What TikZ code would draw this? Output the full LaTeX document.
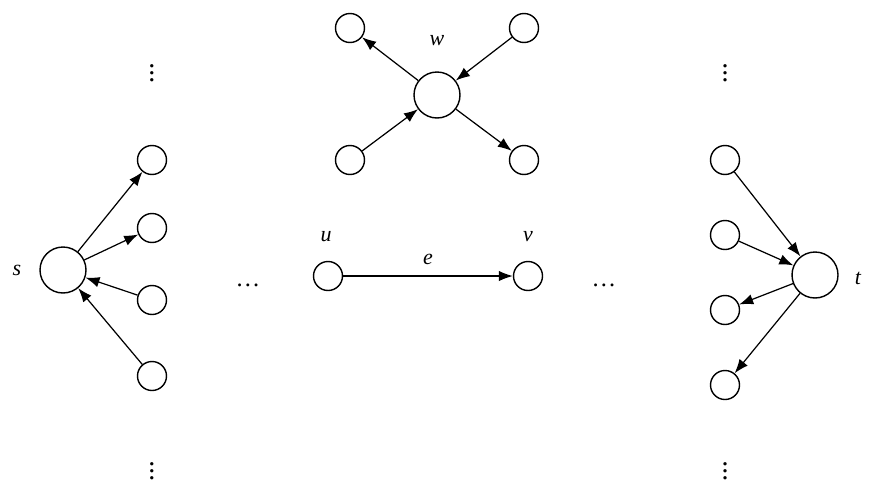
\documentclass[tikz,border=0pt]{standalone}
\usepackage{fontspec}
\setmainfont{Liberation Serif}
\usetikzlibrary{arrows.meta}
\begin{document}
\begin{tikzpicture}[x=0.02cm,y=-0.02cm,
  big/.style={draw,circle,minimum size=0.92cm,inner sep=0pt,line width=0.8pt},
  sm/.style={draw,circle,minimum size=0.58cm,inner sep=0pt,line width=0.8pt},
  lab/.style={font=\itshape\fontsize{12.5}{14}\selectfont},
  vd/.style={font=\fontsize{16}{18}\selectfont},
  arr/.style={-{Latex[length=8pt,width=6pt]},line width=0.7pt}]
\useasboundingbox (0,0) rectangle (871,501);
\node[big] (s) at (63,270) {};
\node[lab] (sl) at (17,270) {s};
\node[sm] (l1) at (152,160) {};
\node[sm] (l2) at (152,228) {};
\node[sm] (l3) at (152,300) {};
\node[sm] (l4) at (152,376) {};
\draw[arr] (s) -- (l1);
\draw[arr] (s) -- (l2);
\draw[arr] (l3) -- (s);
\draw[arr] (l4) -- (s);
\node[vd] (d1) at (152,68) {$\vdots$};
\node[vd] (d2) at (152,466) {$\vdots$};
\node[big] (w) at (437,95) {};
\node[lab] (wl) at (437,41) {w};
\node[sm] (w1) at (350,28) {};
\node[sm] (w2) at (524,28) {};
\node[sm] (w3) at (350,160) {};
\node[sm] (w4) at (524,160) {};
\draw[arr] (w) -- (w1);
\draw[arr] (w2) -- (w);
\draw[arr] (w3) -- (w);
\draw[arr] (w) -- (w4);
\node[sm] (u) at (328,276) {};
\node[sm] (v) at (528,276) {};
\node[lab] (ul) at (326,237) {u};
\node[lab] (vl) at (528,237) {v};
\draw[arr] (u) -- node[lab,above=3pt] {e} (v);
\node (h1) at (248,285) {\fontsize{14}{16}\selectfont\dots};
\node (h2) at (604,285) {\fontsize{14}{16}\selectfont\dots};
\node[big] (t) at (815,275) {};
\node[lab] (tl) at (858,278) {t};
\node[sm] (r1) at (725,160) {};
\node[sm] (r2) at (725,235) {};
\node[sm] (r3) at (725,310) {};
\node[sm] (r4) at (725,385) {};
\draw[arr] (r1) -- (t);
\draw[arr] (r2) -- (t);
\draw[arr] (t) -- (r3);
\draw[arr] (t) -- (r4);
\node[vd] (d3) at (725,68) {$\vdots$};
\node[vd] (d4) at (725,466) {$\vdots$};
\end{tikzpicture}
\end{document}
